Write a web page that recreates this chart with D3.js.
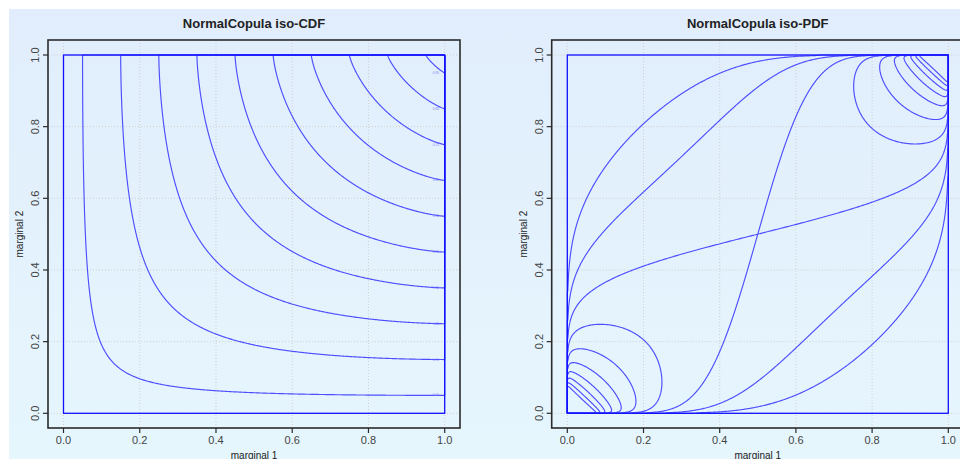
<!DOCTYPE html>
<html><head><meta charset="utf-8">
<script src="https://cdn.jsdelivr.net/npm/d3@7"></script>
<style>body{margin:0;background:#fff}svg{display:block}</style>
</head><body><svg id="c" width="960" height="459"></svg>
<script>
// ---- data ----
const rho = 0.5;
const cdfLevels = [0.05, 0.15, 0.25, 0.35, 0.45, 0.55, 0.65, 0.75, 0.85, 0.95];
const cdfLabels = ["0.05","0.15","0.25","0.35","0.45","0.55","0.65","0.75","0.85","0.95"];
const pdfLevels = [0.5547, 0.8547, 1.1547, 1.4547, 1.7547, 2.0547, 2.3547, 2.6547, 2.9547, 3.2547];
const tickValues = [0, 0.2, 0.4, 0.6, 0.8, 1.0];
const tickLabels = ["0.0", "0.2", "0.4", "0.6", "0.8", "1.0"];
const panelTitles = ["NormalCopula iso-CDF", "NormalCopula iso-PDF"];
const xTitle = "marginal 1";
const yTitle = "marginal 2";

// ---- math helpers ----
function normInv(p) {
  const a = [-3.969683028665376e+01, 2.209460984245205e+02, -2.759285104469687e+02, 1.383577518672690e+02, -3.066479806614716e+01, 2.506628277459239e+00];
  const b = [-5.447609879822406e+01, 1.615858368580409e+02, -1.556989798598866e+02, 6.680131188771972e+01, -1.328068155288572e+01];
  const c = [-7.784894002430293e-03, -3.223964580411365e-01, -2.400758277161838e+00, -2.549732539343734e+00, 4.374664141464968e+00, 2.938163982698783e+00];
  const d = [7.784695709041462e-03, 3.224671290700398e-01, 2.445134137142996e+00, 3.754408661907416e+00];
  const pl = 0.02425, ph = 1 - pl;
  let q, r;
  if (p < pl) { q = Math.sqrt(-2 * Math.log(p)); return (((((c[0]*q+c[1])*q+c[2])*q+c[3])*q+c[4])*q+c[5]) / ((((d[0]*q+d[1])*q+d[2])*q+d[3])*q+1); }
  if (p <= ph) { q = p - 0.5; r = q*q; return (((((a[0]*r+a[1])*r+a[2])*r+a[3])*r+a[4])*r+a[5])*q / (((((b[0]*r+b[1])*r+b[2])*r+b[3])*r+b[4])*r+1); }
  q = Math.sqrt(-2 * Math.log(1 - p)); return -(((((c[0]*q+c[1])*q+c[2])*q+c[3])*q+c[4])*q+c[5]) / ((((d[0]*q+d[1])*q+d[2])*q+d[3])*q+1);
}
function normCdf(x) {
  const t = 1 / (1 + 0.2316419 * Math.abs(x));
  const y = t * (0.319381530 + t * (-0.356563782 + t * (1.781477937 + t * (-1.821255978 + t * 1.330274429))));
  const p = Math.exp(-x * x / 2) / Math.sqrt(2 * Math.PI) * y;
  return x >= 0 ? 1 - p : p;
}
function biCdf(x, y, r) {
  const N = 24, h = r / N;
  let s = 0;
  for (let k = 0; k <= N; k++) {
    const t = k * h, om = 1 - t * t;
    const f = Math.exp(-(x * x - 2 * t * x * y + y * y) / (2 * om)) / (2 * Math.PI * Math.sqrt(om));
    s += f * (k === 0 || k === N ? 1 : (k % 2 ? 4 : 2));
  }
  return normCdf(x) * normCdf(y) + s * h / 3;
}
function copPdf(x, y, r) {
  const om = 1 - r * r;
  return Math.exp(-(r * r * (x * x + y * y) - 2 * r * x * y) / (2 * om)) / Math.sqrt(om);
}

// ---- grids ----
const n = 420;
const z = new Float64Array(n);
for (let i = 0; i < n; i++) z[i] = normInv((i + 0.5) / n);
const cdfGrid = new Float64Array(n * n), pdfGrid = new Float64Array(n * n);
for (let j = 0; j < n; j++) for (let i = 0; i < n; i++) {
  cdfGrid[j * n + i] = biCdf(z[i], z[j], rho);
  pdfGrid[j * n + i] = copPdf(z[i], z[j], rho);
}

// ---- layout ----
const svg = d3.select("#c");
const defs = svg.append("defs");
const grad = defs.append("linearGradient").attr("id", "bg").attr("x1", 0).attr("y1", 0).attr("x2", 0).attr("y2", 1);
grad.append("stop").attr("offset", 0).attr("stop-color", "#e1edfc");
grad.append("stop").attr("offset", 1).attr("stop-color", "#e6f6fd");
svg.append("rect").attr("x", 9).attr("y", 9).attr("width", 951).attr("height", 450).attr("fill", "url(#bg)");

const FONT = "'Liberation Sans', Arial, Helvetica, sans-serif";
const boxTop = 40, boxBottom = 428;
const panels = [
  { left: 48, right: 460, r0: 63.5, r1: 444.7, grid: cdfGrid, levels: cdfLevels, title: panelTitles[0], labels: true },
  { left: 551.7, right: 966, r0: 567.3, r1: 948.3, grid: pdfGrid, levels: pdfLevels, title: panelTitles[1], labels: false }
];

panels.forEach((p, pi) => {
  const xs = d3.scaleLinear().domain([0, 1]).range([p.r0, p.r1]);
  const ys = d3.scaleLinear().domain([0, 1]).range([413.3, 55]);
  const g = svg.append("g");
  const w = p.right - p.left;

  tickValues.forEach(t => {
    g.append("line").attr("x1", xs(t)).attr("x2", xs(t)).attr("y1", boxTop).attr("y2", boxBottom)
      .attr("stroke", "#cfcfcf").attr("stroke-width", 1).attr("stroke-dasharray", "1,2");
    g.append("line").attr("x1", p.left).attr("x2", p.right).attr("y1", ys(t)).attr("y2", ys(t))
      .attr("stroke", "#cfcfcf").attr("stroke-width", 1).attr("stroke-dasharray", "1,2");
  });

  const contours = d3.contours().size([n, n]).thresholds(p.levels)(p.grid);
  const proj = d3.geoTransform({ point: function (x, y) { this.stream.point(xs(x / n), ys(y / n)); } });
  const path = d3.geoPath(proj);
  g.append("g").selectAll("path").data(contours).join("path")
    .attr("d", path).attr("fill", "none").attr("stroke", "#3c3cff").attr("stroke-width", 1.15)
    .attr("stroke-opacity", 0.9).attr("stroke-linejoin", "round");

  g.append("rect").attr("x", xs(0)).attr("y", ys(1)).attr("width", xs(1) - xs(0)).attr("height", ys(0) - ys(1))
    .attr("fill", "none").attr("stroke", "#1010ff").attr("stroke-width", 1.3);

  if (p.labels) {
    p.levels.forEach((lv, k) => {
      g.append("text").attr("x", xs(0.985)).attr("y", ys(lv) + 1).attr("text-anchor", "end")
        .attr("font-family", FONT).attr("font-size", 3.2).attr("fill", "#7a7aff").text(cdfLabels[k]);
    });
  }

  g.append("rect").attr("x", p.left).attr("y", boxTop).attr("width", w).attr("height", boxBottom - boxTop)
    .attr("fill", "none").attr("stroke", "#2b2b2b").attr("stroke-width", 1.6);

  tickValues.forEach((t, k) => {
    g.append("line").attr("x1", xs(t)).attr("x2", xs(t)).attr("y1", boxBottom).attr("y2", boxBottom + 5)
      .attr("stroke", "#2b2b2b").attr("stroke-width", 1.2);
    g.append("text").attr("x", xs(t)).attr("y", 443.5).attr("text-anchor", "middle")
      .attr("font-family", FONT).attr("font-size", 11).attr("fill", "#444").text(tickLabels[k]);
    g.append("line").attr("x1", p.left - 5).attr("x2", p.left).attr("y1", ys(t)).attr("y2", ys(t))
      .attr("stroke", "#2b2b2b").attr("stroke-width", 1.2);
    g.append("text").attr("transform", `translate(${p.left - 9},${ys(t)}) rotate(-90)`).attr("text-anchor", "middle")
      .attr("font-family", FONT).attr("font-size", 11).attr("fill", "#444").text(tickLabels[k]);
  });

  const titleCx = pi === 0 ? (p.left + p.right) / 2 : p.left + 206;
  g.append("text").attr("x", titleCx).attr("y", 28)
    .attr("text-anchor", "middle").attr("font-family", FONT).attr("font-weight", "bold").attr("font-size", 13)
    .attr("fill", "#222").text(p.title);
  g.append("text").attr("x", (xs(0) + xs(1)) / 2).attr("y", 458.5).attr("text-anchor", "middle")
    .attr("font-family", FONT).attr("font-size", 10).attr("fill", "#222").text(xTitle);
  g.append("text").attr("transform", `translate(${p.left - 25},${(ys(0) + ys(1)) / 2}) rotate(-90)`).attr("text-anchor", "middle")
    .attr("font-family", FONT).attr("font-size", 10).attr("fill", "#222").text(yTitle);
});
</script></body></html>
